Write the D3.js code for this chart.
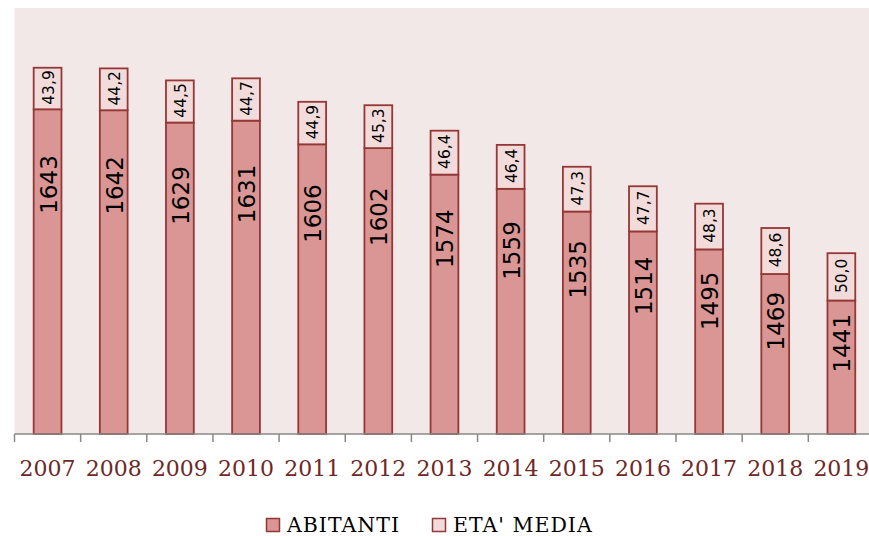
<!doctype html>
<html>
  <head>
    <meta charset="utf-8" />
    <title>Abitanti ed eta' media</title>
    <script src="https://cdn.jsdelivr.net/npm/d3@7"></script>
    <style>
      html,
      body {
        margin: 0;
        padding: 0;
        background: #fff;
        overflow: hidden;
      }
    </style>
  </head>
  <body>
    <script>
      // data
      const years = ["2007", "2008", "2009", "2010", "2011", "2012", "2013",
        "2014", "2015", "2016", "2017", "2018", "2019"];
      const abitanti = [1643, 1642, 1629, 1631, 1606, 1602, 1574, 1559, 1535,
        1514, 1495, 1469, 1441];
      const etaMedia = [43.9, 44.2, 44.5, 44.7, 44.9, 45.3, 46.4, 46.4, 47.3,
        47.7, 48.3, 48.6, 50.0];
      const seriesNames = ["ABITANTI", "ETA' MEDIA"];

      const width = 869;
      const height = 536;
      const fills = ["#D99694", "#F2DCDB"];
      const strokeColor = "#953735";

      // plot area
      const plotLeft = 14.5;
      const plotTop = 8;
      const plotBottom = 434;
      const plotRight = plotLeft + 66.15 * years.length;

      const rows = years.map((yr, i) => ({
        year: yr,
        abitanti: abitanti[i],
        eta: etaMedia[i],
      }));

      const x = d3
        .scaleBand()
        .domain(years)
        .range([plotLeft, plotRight])
        .paddingInner(0.58)
        .paddingOuter(0.29);

      const y = d3
        .scaleLinear()
        .domain([1300, 1750])
        .range([plotBottom, plotTop]);

      const svg = d3
        .select("body")
        .append("svg")
        .attr("width", width)
        .attr("height", height)
        .attr("viewBox", [0, 0, width, height]);

      // plot background
      svg
        .append("rect")
        .attr("x", plotLeft)
        .attr("y", plotTop)
        .attr("width", plotRight - plotLeft)
        .attr("height", plotBottom - plotTop)
        .attr("fill", "#F2E8E8");

      const bars = svg
        .append("g")
        .selectAll("g")
        .data(rows)
        .join("g")
        .attr("transform", (d) => `translate(${x(d.year)},0)`);

      // ABITANTI segment
      bars
        .append("rect")
        .attr("x", 0)
        .attr("y", (d) => y(d.abitanti))
        .attr("width", x.bandwidth())
        .attr("height", (d) => y(1300) - y(d.abitanti))
        .attr("fill", fills[0])
        .attr("stroke", strokeColor)
        .attr("stroke-width", 1.8);

      // ETA' MEDIA stacked on top
      bars
        .append("rect")
        .attr("x", 0)
        .attr("y", (d) => y(d.abitanti + d.eta))
        .attr("width", x.bandwidth())
        .attr("height", (d) => y(d.abitanti) - y(d.abitanti + d.eta))
        .attr("fill", fills[1])
        .attr("stroke", strokeColor)
        .attr("stroke-width", 1.8);

      // value labels, rotated
      const cx = x.bandwidth() / 2;
      bars
        .append("text")
        .attr("transform", (d) => {
          const t = y(d.abitanti);
          const cy = t + 0.17 * (y(1300) - t) + 20;
          return `translate(${cx + 1},${cy}) rotate(-90)`;
        })
        .attr("text-anchor", "middle")
        .attr("dominant-baseline", "central")
        .attr("font-family", "'DejaVu Sans', sans-serif")
        .attr("font-size", 23)
        .attr("fill", "#000")
        .text((d) => d.abitanti);

      bars
        .append("text")
        .attr("transform", (d) => {
          const cy = (y(d.abitanti) + y(d.abitanti + d.eta)) / 2 - 1;
          return `translate(${cx + 1},${cy}) rotate(-90)`;
        })
        .attr("text-anchor", "middle")
        .attr("dominant-baseline", "central")
        .attr("font-family", "'DejaVu Sans', sans-serif")
        .attr("font-size", 15.5)
        .attr("fill", "#000")
        .text((d) => d.eta.toFixed(1).replace(".", ","));

      // x axis: labels at centres, ticks at band edges
      const axis = svg
        .append("g")
        .attr("transform", `translate(0,${plotBottom})`)
        .call(d3.axisBottom(x).tickSize(0).tickPadding(26));
      axis.select(".domain").remove();
      axis
        .selectAll("text")
        .attr("font-family", "'DejaVu Serif', serif")
        .attr("font-size", 22)
        .attr("fill", "#6F2826");

      const edges = years.map((yr) => x(yr) - x.step() * x.paddingInner() / 2);
      svg
        .append("g")
        .selectAll("line")
        .data(edges)
        .join("line")
        .attr("x1", (d) => d)
        .attr("x2", (d) => d)
        .attr("y1", plotBottom)
        .attr("y2", plotBottom + 8)
        .attr("stroke", "#888")
        .attr("stroke-width", 1.5);

      svg
        .append("line")
        .attr("x1", plotLeft)
        .attr("x2", plotRight)
        .attr("y1", plotBottom)
        .attr("y2", plotBottom)
        .attr("stroke", "#888")
        .attr("stroke-width", 1.5);

      // legend
      const legendX = [266, 432];
      const legend = svg
        .append("g")
        .selectAll("g")
        .data(seriesNames)
        .join("g")
        .attr("transform", (d, i) => `translate(${legendX[i]},518)`);

      legend
        .append("rect")
        .attr("x", 0.5)
        .attr("y", 0.5)
        .attr("width", 13)
        .attr("height", 13)
        .attr("fill", (d, i) => fills[i])
        .attr("stroke", strokeColor)
        .attr("stroke-width", 1.5);

      legend
        .append("text")
        .attr("x", 21)
        .attr("y", 13.5)
        .attr("font-family", "'DejaVu Serif', serif")
        .attr("font-size", 20.5)
        .attr("letter-spacing", 1)
        .attr("fill", "#000")
        .text((d) => d);
    </script>
  </body>
</html>
